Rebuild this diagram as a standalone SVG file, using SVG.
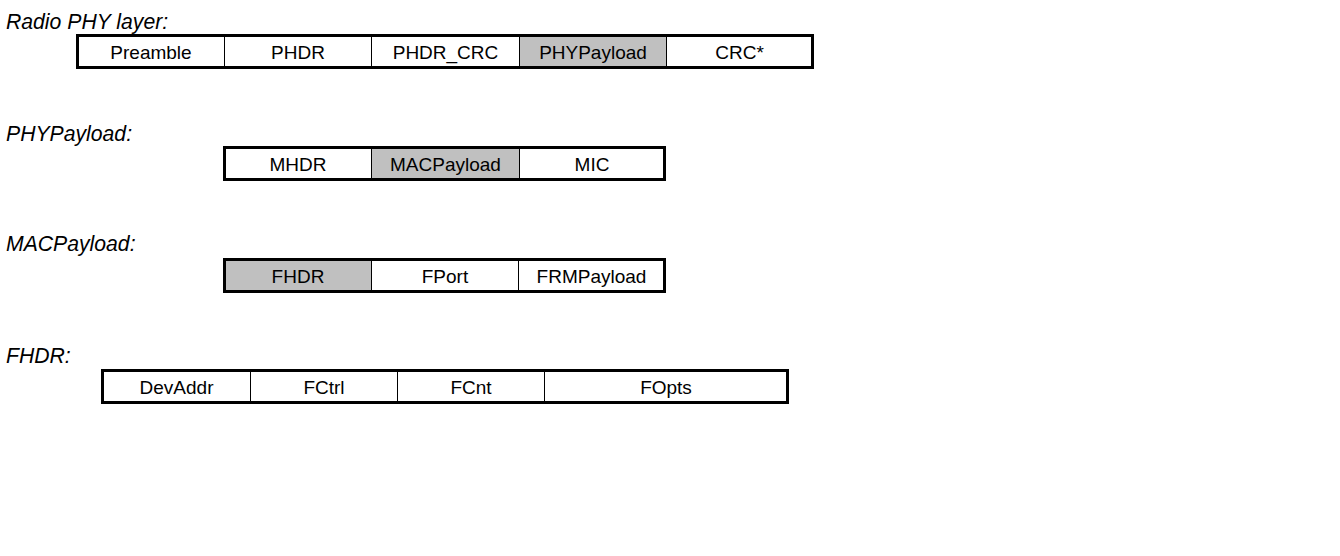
<svg xmlns="http://www.w3.org/2000/svg" width="1340" height="556" viewBox="0 0 1340 556">
<style>
.lbl{font-family:"Liberation Sans",Arial,sans-serif;font-style:italic;font-size:21.2px;fill:#000}
.txt{font-family:"Liberation Sans",Arial,sans-serif;font-size:19px;fill:#000;text-anchor:middle}
.box{fill:none;stroke:#000;stroke-width:3}
.div{stroke:#000;stroke-width:1}
.hl{fill:#c0c0c0}
</style>
<rect width="1340" height="556" fill="#fff"/>
<g id="row-radio">
<text class="lbl" x="6" y="29">Radio PHY layer:</text>
<rect class="hl" x="520" y="36" width="146" height="31"/>
<g class="div"><line x1="224.5" y1="36" x2="224.5" y2="67"/><line x1="371.5" y1="36" x2="371.5" y2="67"/><line x1="519.5" y1="36" x2="519.5" y2="67"/><line x1="666.5" y1="36" x2="666.5" y2="67"/></g>
<rect class="box" x="77.5" y="35.5" width="735" height="32"/>
<text class="txt" x="151" y="58.5">Preamble</text>
<text class="txt" x="298" y="58.5">PHDR</text>
<text class="txt" x="445.5" y="58.5">PHDR_CRC</text>
<text class="txt" x="593" y="58.5">PHYPayload</text>
<text class="txt" x="739.5" y="58.5">CRC*</text>
</g>
<g id="row-phypayload">
<text class="lbl" x="6" y="141">PHYPayload:</text>
<rect class="hl" x="372" y="148" width="147" height="31"/>
<g class="div"><line x1="371.5" y1="148" x2="371.5" y2="179"/><line x1="519.5" y1="148" x2="519.5" y2="179"/></g>
<rect class="box" x="224.5" y="147.5" width="440" height="32"/>
<text class="txt" x="298" y="170.5">MHDR</text>
<text class="txt" x="445.5" y="170.5">MACPayload</text>
<text class="txt" x="592" y="170.5">MIC</text>
</g>
<g id="row-macpayload">
<text class="lbl" x="6" y="251">MACPayload:</text>
<rect class="hl" x="225" y="260" width="146" height="31"/>
<g class="div"><line x1="371.5" y1="260" x2="371.5" y2="291"/><line x1="518.5" y1="260" x2="518.5" y2="291"/></g>
<rect class="box" x="224.5" y="259.5" width="440" height="32"/>
<text class="txt" x="298" y="282.5">FHDR</text>
<text class="txt" x="445" y="282.5">FPort</text>
<text class="txt" x="591.5" y="282.5">FRMPayload</text>
</g>
<g id="row-fhdr">
<text class="lbl" x="6" y="363">FHDR:</text>
<g class="div"><line x1="250.5" y1="371" x2="250.5" y2="402"/><line x1="397.5" y1="371" x2="397.5" y2="402"/><line x1="544.5" y1="371" x2="544.5" y2="402"/></g>
<rect class="box" x="102.5" y="370.5" width="685" height="32"/>
<text class="txt" x="176.5" y="393.5">DevAddr</text>
<text class="txt" x="324" y="393.5">FCtrl</text>
<text class="txt" x="471" y="393.5">FCnt</text>
<text class="txt" x="666" y="393.5">FOpts</text>
</g>
<g id="connectors"/>
</svg>
